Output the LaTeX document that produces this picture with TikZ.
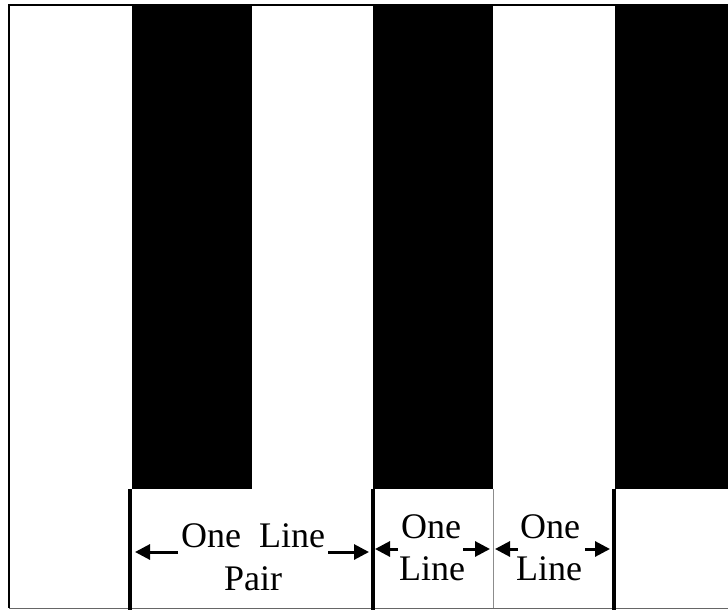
\documentclass[tikz,border=0pt]{standalone}
\usepackage{fontspec}
\setmainfont{Liberation Serif}
\usetikzlibrary{arrows.meta}
\begin{document}
\begin{tikzpicture}[x=1pt,y=-1pt,
  bar/.style={fill=black},
  divider/.style={line width=4.5pt},
  thindiv/.style={line width=1pt,black!45},
  lbl/.style={font=\fontsize{36}{40}\selectfont,inner sep=0pt,anchor=base},
  dimarrow/.style={line width=3pt,-{Triangle[length=15pt,width=15pt]}}]
\useasboundingbox (0,0) rectangle (728,610);
\fill[white] (0,0) rectangle (728,610);
% black bars
\fill[bar] (132,5) rectangle (252,489);
\fill[bar] (373,5) rectangle (493,489);
\fill[bar] (615,5) rectangle (728,489);
% frame
\draw[line width=2pt] (728,5) -- (9,5) -- (9,608);
\draw[line width=1pt,black!60] (9,608) -- (728,608);
% dividers below bars
\draw[divider] (130,489) -- (130,610);
\draw[divider] (373,489) -- (373,610);
\draw[thindiv] (493,489) -- (493,608);
\draw[divider] (614,489) -- (614,610);
% labels
\node[lbl] (lp1) at (253,547) {One\ \ Line};
\node[lbl] (lp2) at (253,590) {Pair};
\node[lbl] (la1) at (431,538) {One};
\node[lbl] (la2) at (432,580) {Line};
\node[lbl] (lb1) at (550,538) {One};
\node[lbl] (lb2) at (549,580) {Line};
% arrow ends
\coordinate (p0) at (178,552);
\coordinate (p0t) at (135,552);
\coordinate (p1) at (328,552);
\coordinate (p1t) at (369,552);
\coordinate (a0) at (398,549);
\coordinate (a0t) at (375,549);
\coordinate (a1) at (463,549);
\coordinate (a1t) at (490,549);
\coordinate (b0) at (518,549);
\coordinate (b0t) at (495,549);
\coordinate (b1) at (585,549);
\coordinate (b1t) at (610,549);
\draw[dimarrow] (p0) -- (p0t);
\draw[dimarrow] (p1) -- (p1t);
\draw[dimarrow] (a0) -- (a0t);
\draw[dimarrow] (a1) -- (a1t);
\draw[dimarrow] (b0) -- (b0t);
\draw[dimarrow] (b1) -- (b1t);
\end{tikzpicture}
\end{document}
